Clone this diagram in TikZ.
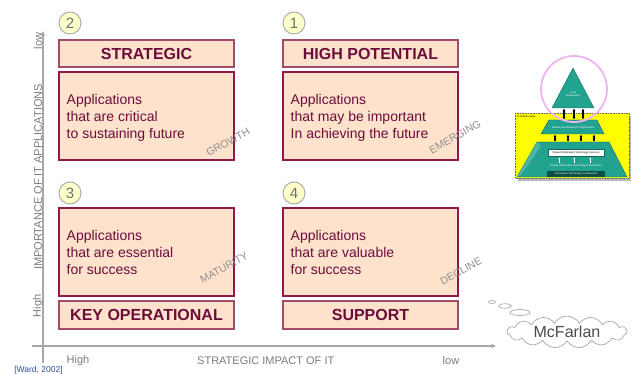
\documentclass[tikz,border=0pt]{standalone}
\usepackage{fontspec}
\setmainfont{Liberation Sans}
\usetikzlibrary{arrows.meta,shapes.geometric,shapes.symbols}

\definecolor{boxfill}{HTML}{FFE2CC}
\definecolor{bodyedge}{HTML}{8A1A4A}
\definecolor{titleedge}{HTML}{A24C6C}
\definecolor{boxtext}{HTML}{6C0C3C}
\definecolor{discfill}{HTML}{FFFFCC}
\definecolor{discedge}{HTML}{A0A0A0}
\definecolor{numgray}{HTML}{707070}
\definecolor{axisgray}{HTML}{A8A8A8}
\definecolor{labelgray}{HTML}{7C7C7C}
\definecolor{phasegray}{HTML}{8E8E8E}
\definecolor{citeblue}{HTML}{2E4E9E}
\definecolor{pyrteal}{HTML}{22A38F}
\definecolor{pyredge}{HTML}{0F6A5C}
\definecolor{pyrdark}{HTML}{0B4F45}
\definecolor{infrayellow}{HTML}{FFFF00}
\definecolor{ringpink}{HTML}{F0B4F0}

\tikzset{
  titlebox/.style={draw=titleedge, fill=boxfill, line width=1.2pt,
    minimum width=175pt, minimum height=27pt, inner sep=0pt,
    font=\fontsize{16}{19}\selectfont\bfseries, text=boxtext},
  bodybox/.style={draw=bodyedge, fill=boxfill, line width=1.4pt,
    minimum width=175pt, minimum height=88pt, inner sep=0pt},
  bodytext/.style={font=\fontsize{14}{17}\selectfont, text=boxtext,
    align=left, anchor=north west, inner sep=0pt},
  numdisc/.style={circle, draw=discedge, fill=discfill, line width=0.8pt,
    minimum size=22pt, inner sep=0pt, font=\fontsize{15}{15}\selectfont, text=numgray},
  phase/.style={font=\fontsize{10.5}{12}\selectfont, text=phasegray, rotate=29, inner sep=0pt},
  axislabel/.style={font=\fontsize{11}{13}\selectfont, text=labelgray, inner sep=0pt},
  axisline/.style={draw=axisgray, line width=1.5pt, -{Stealth[length=5pt,width=4.5pt]}},
  bubble/.style={ellipse, draw=axisgray, fill=white, line width=0.7pt, inner sep=0pt},
  tinywhite/.style={font=\fontsize{2.6}{3.2}\selectfont, text=white, inner sep=0pt, align=center},
  tinydark/.style={font=\fontsize{2.6}{3.2}\selectfont, text=black, inner sep=0pt},
  layerarrow/.style={draw=black, line width=1.1pt, {Stealth[length=1.8pt,width=2.6pt]}-{Stealth[length=1.8pt,width=2.6pt]}},
}

\begin{document}
\begin{tikzpicture}[x=1pt, y=-1pt]
\useasboundingbox (0,0) rectangle (641,374);
\fill[white] (0,0) rectangle (641,374);

% ---- axes ----
\coordinate (ybot) at (43,363);
\coordinate (ytop) at (43,31);
\coordinate (xleft) at (32,346);
\coordinate (xright) at (496,346);
\draw[axisline] (ybot) -- (ytop);
\draw[axisline] (xleft) -- (xright);

\node[axislabel, rotate=90] (ylow) at (38,41) {low};
\node[axislabel, rotate=90] (yhigh) at (38,306) {High};
\node[axislabel, rotate=90] (ytitle) at (38,177) {IMPORTANCE OF IT APPLICATIONS};
\node[axislabel] (xhigh) at (78,361) {High};
\node[axislabel, anchor=west] (xtitle) at (197,361) {STRATEGIC IMPACT OF IT};
\node[axislabel] (xlow) at (451,361) {low};
\node[font=\fontsize{8.5}{10}\selectfont, text=citeblue, inner sep=0pt] (cite) at (38.5,370) {[Ward, 2002]};

% ---- quadrant 2: strategic ----
\node[numdisc] (n2) at (70,23) {2};
\node[titlebox] (strat) at (146.5,53.5) {STRATEGIC};
\node[bodybox] (stratbody) at (146.5,116) {};
\node[bodytext] (strattxt) at (66.5,93.8) {Applications\\that are critical\\to sustaining future};

% ---- quadrant 1: high potential ----
\node[numdisc] (n1) at (294,23) {1};
\node[titlebox] (hipot) at (370.5,53.5) {HIGH POTENTIAL};
\node[bodybox] (hipotbody) at (370.5,116) {};
\node[bodytext] (hipottxt) at (290.5,93.8) {Applications\\that may be important\\In achieving the future};

% ---- quadrant 3: key operational ----
\node[numdisc] (n3) at (70,193) {3};
\node[bodybox] (keybody) at (146.5,252) {};
\node[titlebox, minimum height=28pt] (keyop) at (146.5,315) {KEY OPERATIONAL};
\node[bodytext] (keytxt) at (66.5,230.5) {Applications\\that are essential\\for success};

% ---- quadrant 4: support ----
\node[numdisc] (n4) at (294,193) {4};
\node[bodybox] (suppbody) at (370.5,252) {};
\node[titlebox, minimum height=28pt] (supp) at (370.5,315) {SUPPORT};
\node[bodytext] (supptxt) at (290.5,230.5) {Applications\\that are valuable\\for success};

% ---- life-cycle phases ----
\node[phase] (growth) at (228,142) {GROWTH};
\node[phase] (emerging) at (455,137) {EMERGING};
\node[phase] (maturity) at (224,268) {MATURITY};
\node[phase] (decline) at (461,271) {DECLINE};

% ---- IT infrastructure pyramid ----
\fill[gray!55] (518,116) rectangle (631,181);
\draw[fill=infrayellow, draw=black!60, line width=0.4pt, dash pattern=on 1pt off 0.6pt] (515,113) rectangle (629,178);
\node[tinydark, anchor=west] (infra) at (517,116.5) {IT Infrastructure};

% base layer
\draw[fill=pyrteal, draw=pyredge, line width=0.4pt] (537,142) -- (609,142) -- (627,177) -- (517,177) -- cycle;
\fill[pyrteal!80!white] (537,142) -- (541,146) -- (521,175) -- (517,177) -- cycle;
\draw[fill=white, draw=pyredge, line width=0.3pt] (548,149) rectangle (604,156);
\node[tinydark] (svc) at (576,152.5) {Shared Information Technology Services};
\foreach \ax in {559,574,590}
  \draw[white, line width=0.5pt, -{Stealth[length=1.2pt,width=1.6pt]}] (\ax,163) -- (\ax,157.5);
\node[tinywhite] (human) at (576,166) {Human Information Technology Infrastructure};
\fill[pyrdark] (547,171) rectangle (605,177);
\node[tinywhite] (comp) at (576,174) {Information Technology Components};

% shared applications layer
\draw[fill=pyrteal, draw=pyredge, line width=0.4pt] (549,120) -- (597,120) -- (604,134) -- (541,134) -- cycle;
\node[tinywhite] (shared) at (573,128) {Shared and Standard IT Applications};

% local applications apex
\draw[fill=pyrteal, draw=pyredge, line width=0.4pt] (573,68) -- (594,108) -- (552,108) -- cycle;
\node[tinywhite] (local) at (573,94.5) {Local\\Applications};

% links between layers
\foreach \ax in {564,574,583}
  \draw[layerarrow] (\ax,109) -- (\ax,119);
\foreach \ax in {555,568,581,594}
  \draw[layerarrow] (\ax,135) -- (\ax,141.5);

% highlight ring
\draw[ringpink, line width=1.8pt] (574,89) circle (33);

% ---- McFarlan thought cloud ----
\node[bubble, minimum width=7pt, minimum height=3pt] (b1) at (492,302) {};
\node[bubble, minimum width=13pt, minimum height=4.5pt] (b2) at (505,306) {};
\node[bubble, minimum width=20pt, minimum height=6pt] (b3) at (520,312.5) {};
\node[cloud, cloud puffs=15, cloud puff arc=120, aspect=4.6, draw=axisgray, fill=white,
      line width=0.7pt, minimum width=120pt, minimum height=27pt, inner sep=0.5pt,
      font=\fontsize{16}{18}\selectfont, text=black!70] (mcf) at (567,332) {McFarlan};
\end{tikzpicture}
\end{document}
